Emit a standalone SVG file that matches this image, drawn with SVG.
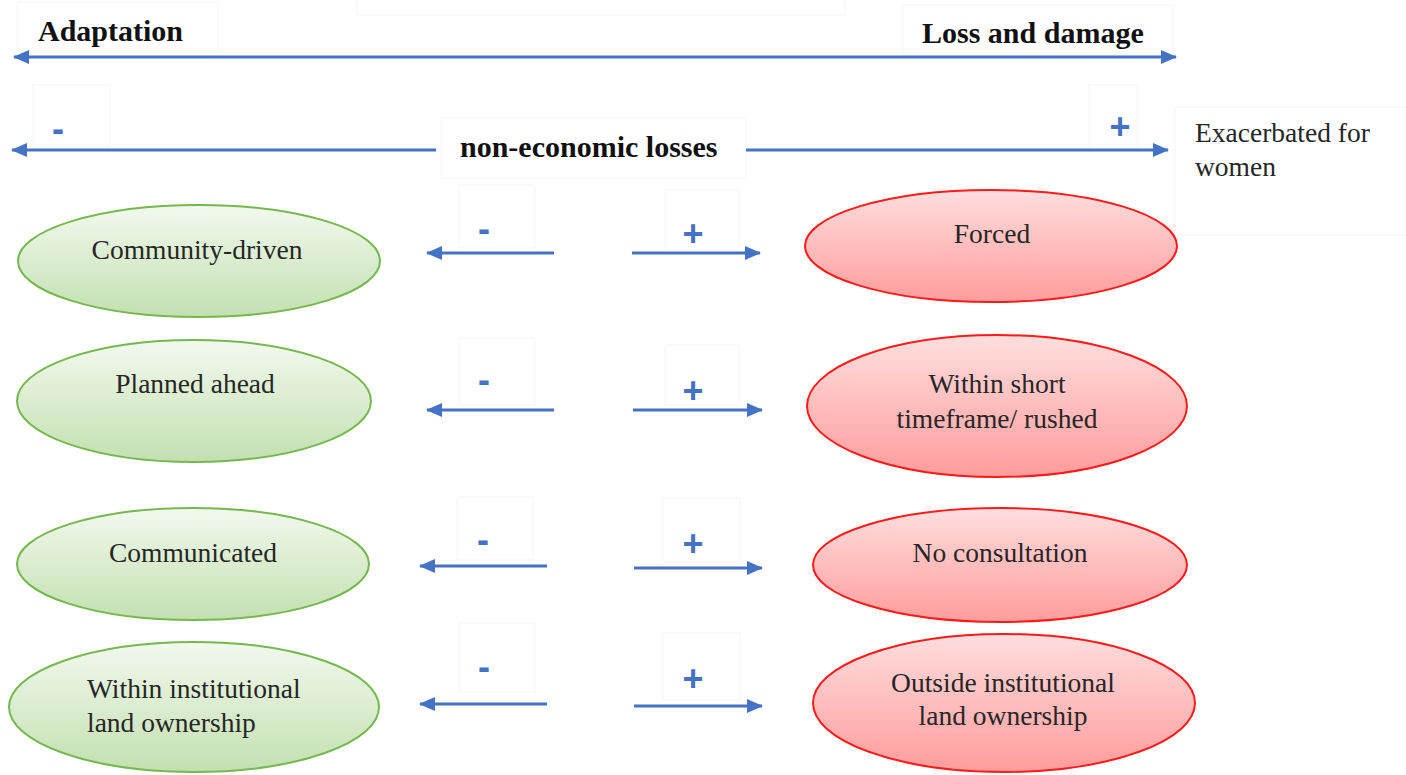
<svg xmlns="http://www.w3.org/2000/svg" width="1406" height="775" viewBox="0 0 1406 775">
<style>
.bg{fill:#ffffff}
.fb{fill:none;stroke:#f5f5f5;stroke-width:1}
.ln{stroke:#4472c4;stroke-width:3;fill:none}
.ttl{font-family:"Liberation Serif","Times New Roman",serif;font-weight:bold;font-size:30px;fill:#111}
.lbl{font-family:"Liberation Serif","Times New Roman",serif;font-size:27.5px;fill:#262626}
.sg{font-family:"Liberation Sans",Arial,sans-serif;font-weight:bold;font-size:36px;fill:#4472c4;text-anchor:middle}
.g{fill:url(#gg);stroke:#74b84f;stroke-width:2}
.r{fill:url(#rg);stroke:#ff1a1a;stroke-width:2}
.c{text-anchor:middle}
</style>
<defs>
<linearGradient id="gg" x1="0" y1="0" x2="0" y2="1">
<stop offset="0" stop-color="#f2f9ee"/>
<stop offset="1" stop-color="#c3e0b0"/>
</linearGradient>
<linearGradient id="rg" x1="0" y1="0" x2="0" y2="1">
<stop offset="0" stop-color="#ffdede"/>
<stop offset="1" stop-color="#ff9c9c"/>
</linearGradient>
<marker id="ah" markerUnits="userSpaceOnUse" markerWidth="16" markerHeight="14" refX="15" refY="7" orient="auto-start-reverse">
<path d="M0,0 L16,7 L0,14 Z" fill="#4472c4"/>
</marker>
</defs>
<rect class="bg" x="0" y="0" width="1406" height="775"/>

<g id="faint-boxes">
<rect class="fb" x="357" y="-1" width="488" height="16"/>
<rect class="fb" x="17" y="2" width="201" height="48"/>
<rect class="fb" x="903" y="5" width="270" height="50"/>
<rect class="fb" x="33" y="85" width="77" height="61"/>
<rect class="fb" x="1089" y="85" width="48" height="65"/>
<rect class="fb" x="1175" y="107" width="231" height="128"/>
<rect class="fb" x="441" y="118" width="305" height="60"/>
<rect class="fb" x="459" y="185" width="76" height="63"/>
<rect class="fb" x="665" y="190" width="74" height="60"/>
<rect class="fb" x="459" y="338" width="76" height="67"/>
<rect class="fb" x="665" y="345" width="74" height="60"/>
<rect class="fb" x="457" y="497" width="76" height="63"/>
<rect class="fb" x="663" y="498" width="77" height="64"/>
<rect class="fb" x="459" y="623" width="76" height="69"/>
<rect class="fb" x="663" y="633" width="77" height="67"/>
</g>

<g id="connectors">
<line class="ln" x1="14" y1="57" x2="1176" y2="57" marker-start="url(#ah)" marker-end="url(#ah)"/>
<line class="ln" x1="436" y1="150" x2="12" y2="150" marker-end="url(#ah)"/>
<line class="ln" x1="746" y1="150" x2="1168" y2="150" marker-end="url(#ah)"/>
<line class="ln" x1="554" y1="253" x2="427" y2="253" marker-end="url(#ah)"/>
<line class="ln" x1="632" y1="253" x2="760" y2="253" marker-end="url(#ah)"/>
<line class="ln" x1="554" y1="410" x2="427" y2="410" marker-end="url(#ah)"/>
<line class="ln" x1="633" y1="410" x2="762" y2="410" marker-end="url(#ah)"/>
<line class="ln" x1="547" y1="566" x2="420" y2="566" marker-end="url(#ah)"/>
<line class="ln" x1="634" y1="568" x2="762" y2="568" marker-end="url(#ah)"/>
<line class="ln" x1="547" y1="704" x2="420" y2="704" marker-end="url(#ah)"/>
<line class="ln" x1="634" y1="706" x2="762" y2="706" marker-end="url(#ah)"/>
</g>

<g id="labels">
<text class="ttl" x="38" y="41">Adaptation</text>
<text class="ttl" x="922" y="43">Loss and damage</text>
<text class="ttl" x="460" y="157">non-economic losses</text>
<text class="lbl" x="1195" y="142">Exacerbated for</text>
<text class="lbl" x="1195" y="176">women</text>
<text class="sg" x="58" y="141">-</text>
<text class="sg" x="1120" y="139">+</text>
<text class="sg" x="484" y="241">-</text>
<text class="sg" x="693" y="246">+</text>
<text class="sg" x="484" y="392">-</text>
<text class="sg" x="693" y="403">+</text>
<text class="sg" x="483" y="552">-</text>
<text class="sg" x="693" y="556">+</text>
<text class="sg" x="484" y="679">-</text>
<text class="sg" x="693" y="691">+</text>
</g>

<g id="node-community-driven">
<ellipse class="g" cx="199" cy="261" rx="181" ry="56"/>
<text class="lbl c" x="197" y="259">Community-driven</text>
</g>
<g id="node-planned-ahead">
<ellipse class="g" cx="194" cy="401" rx="177" ry="61"/>
<text class="lbl c" x="195" y="393">Planned ahead</text>
</g>
<g id="node-communicated">
<ellipse class="g" cx="193" cy="564" rx="176" ry="56"/>
<text class="lbl c" x="193" y="562">Communicated</text>
</g>
<g id="node-within-institutional">
<ellipse class="g" cx="194" cy="707" rx="185" ry="65"/>
<text class="lbl" x="87" y="698">Within institutional</text>
<text class="lbl" x="87" y="732">land ownership</text>
</g>

<g id="node-forced">
<ellipse class="r" cx="991" cy="246" rx="186" ry="56"/>
<text class="lbl c" x="992" y="243">Forced</text>
</g>
<g id="node-within-short">
<ellipse class="r" cx="997" cy="406" rx="190" ry="71"/>
<text class="lbl c" x="997" y="393">Within short</text>
<text class="lbl c" x="997" y="428">timeframe/ rushed</text>
</g>
<g id="node-no-consultation">
<ellipse class="r" cx="1000" cy="565" rx="187" ry="57"/>
<text class="lbl c" x="1000" y="562">No consultation</text>
</g>
<g id="node-outside-institutional">
<ellipse class="r" cx="1004" cy="703" rx="191" ry="69"/>
<text class="lbl c" x="1003" y="692">Outside institutional</text>
<text class="lbl c" x="1003" y="725">land ownership</text>
</g>
</svg>
